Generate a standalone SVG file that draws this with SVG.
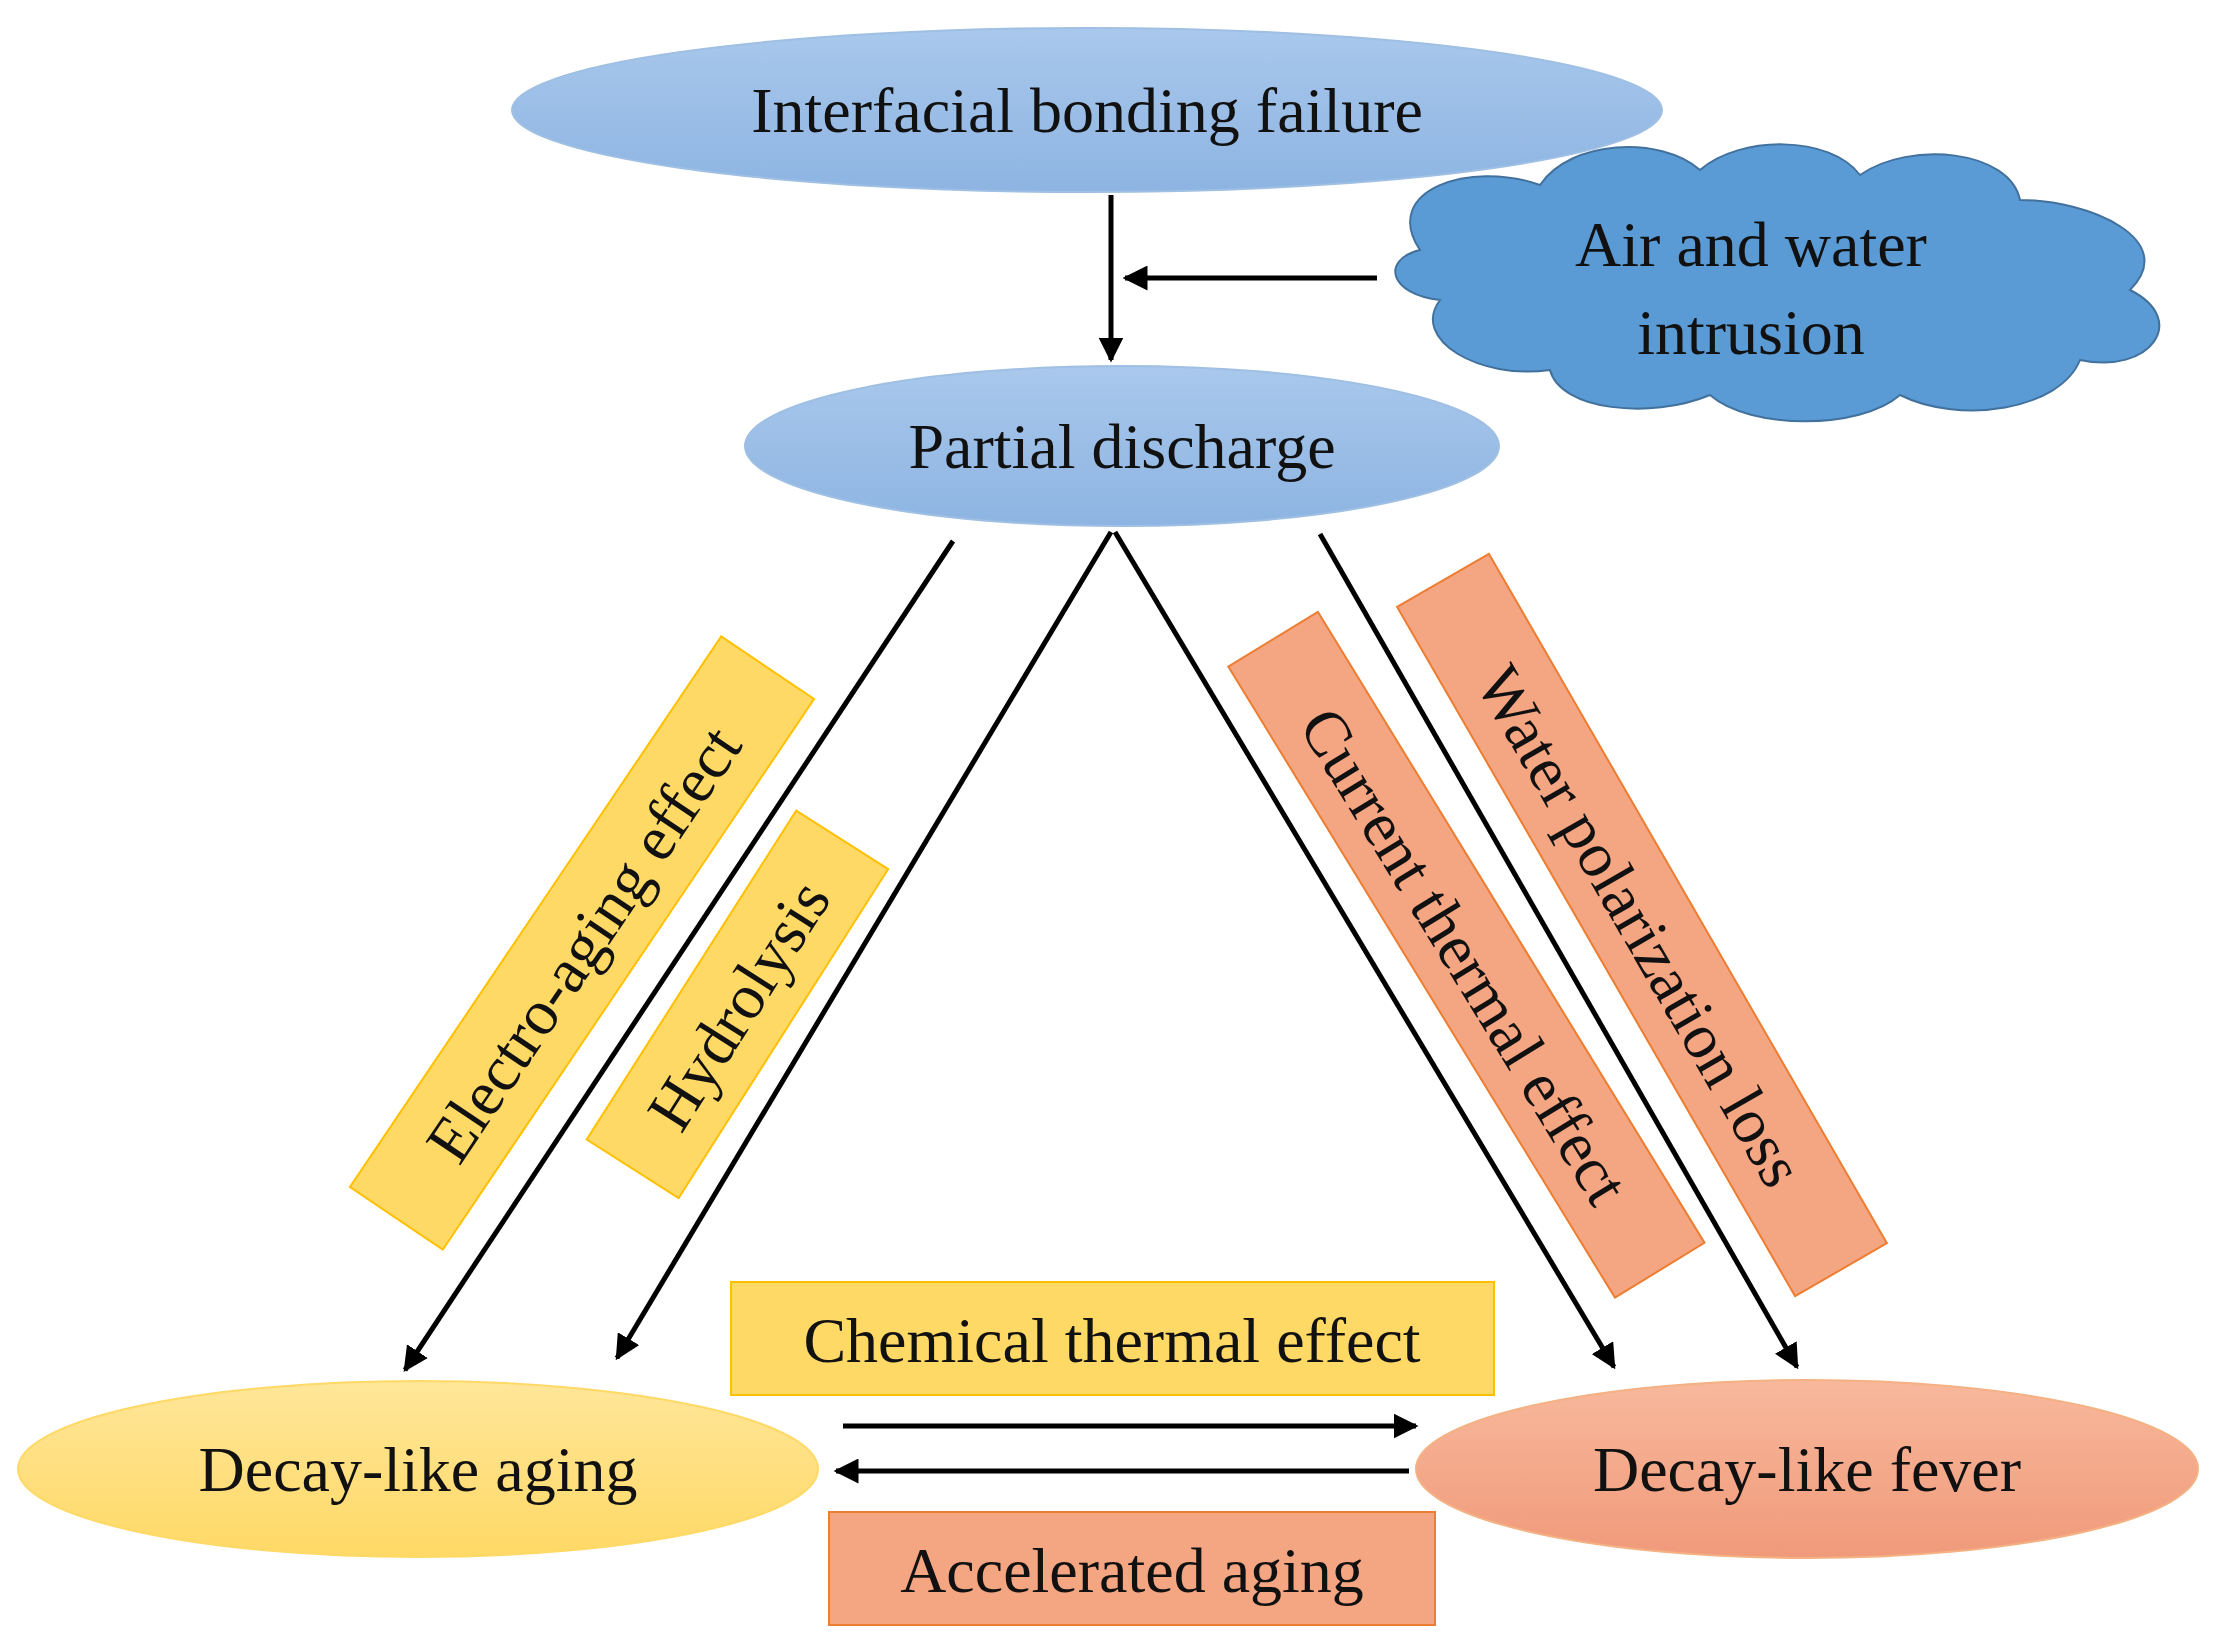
<svg xmlns="http://www.w3.org/2000/svg" width="2214" height="1647" viewBox="0 0 2214 1647">
<style>
text{font-family:"Liberation Serif","Times New Roman",serif;font-size:64px;fill:#111;text-anchor:middle;dominant-baseline:central}
.c{stroke:#000;stroke-width:5;fill:none;marker-end:url(#ah)}
.y{fill:#ffd966;stroke:#ffc000;stroke-width:2}
.o{fill:#f4a582;stroke:#ed7d31;stroke-width:2}
</style>
<defs>
<marker id="ah" viewBox="0 0 10 10" refX="9" refY="5" markerWidth="5" markerHeight="5" orient="auto"><path d="M0,0L10,5L0,10z" fill="#000"/></marker>
<linearGradient id="gb" x1="0" y1="0" x2="0" y2="1"><stop offset="0" stop-color="#a9c8ec"/><stop offset="1" stop-color="#8db4e2"/></linearGradient>
<linearGradient id="gy" x1="0" y1="0" x2="0" y2="1"><stop offset="0" stop-color="#ffe699"/><stop offset="1" stop-color="#ffd966"/></linearGradient>
<linearGradient id="go" x1="0" y1="0" x2="0" y2="1"><stop offset="0" stop-color="#f8b89c"/><stop offset="1" stop-color="#f09a7a"/></linearGradient>
</defs>
<g id="connectors">
<line class="c" x1="1111" y1="195" x2="1111" y2="360"/>
<line class="c" x1="1377" y1="278" x2="1125" y2="278"/>
<line class="c" x1="953" y1="541" x2="405" y2="1370"/>
<line class="c" x1="1111" y1="532" x2="617" y2="1358"/>
<line class="c" x1="1115" y1="532" x2="1614" y2="1367"/>
<line class="c" x1="1320" y1="534" x2="1797" y2="1367"/>
<line class="c" x1="843" y1="1426" x2="1416" y2="1426"/>
<line class="c" x1="1409" y1="1471" x2="836" y2="1471"/>
</g>
<g id="n1"><ellipse cx="1087" cy="110" rx="575" ry="82" fill="url(#gb)" stroke="#9fbfe3" stroke-width="2"/><text x="1087" y="110">Interfacial bonding failure</text></g>
<g id="n2"><path d="M1420,250 C1380,190 1470,160 1540,185 C1570,140 1660,135 1700,170 C1740,135 1830,135 1860,175 C1910,140 2010,150 2020,200 C2090,200 2180,240 2130,290 C2190,320 2150,375 2080,360 C2060,410 1960,425 1900,395 C1860,430 1750,430 1710,395 C1650,420 1560,410 1550,370 C1480,380 1410,340 1440,300 C1390,295 1380,260 1420,250 Z" fill="#5b9bd5" stroke="#41719c" stroke-width="2"/><text x="1751" y="244">Air and water</text><text x="1751" y="332">intrusion</text></g>
<g id="n3"><ellipse cx="1122" cy="446" rx="377" ry="80" fill="url(#gb)" stroke="#9fbfe3" stroke-width="2"/><text x="1122" y="446">Partial discharge</text></g>
<g id="n4"><ellipse cx="418" cy="1469" rx="400" ry="88" fill="url(#gy)" stroke="#ffd966" stroke-width="2"/><text x="418" y="1469">Decay-like aging</text></g>
<g id="n5"><ellipse cx="1807" cy="1469" rx="391" ry="89" fill="url(#go)" stroke="#f4b183" stroke-width="2"/><text x="1807" y="1469">Decay-like fever</text></g>
<g id="n6"><rect class="y" x="731" y="1282" width="763" height="113"/><text x="1112" y="1340">Chemical thermal effect</text></g>
<g id="n7"><rect class="o" x="829" y="1512" width="606" height="113"/><text x="1132" y="1570">Accelerated aging</text></g>
<g id="n8" transform="translate(582,943) rotate(-56)"><rect class="y" x="-332" y="-56" width="664" height="112"/><text x="0" y="2">Electro-aging effect</text></g>
<g id="n9" transform="translate(737,1004) rotate(-57.5)"><rect class="y" x="-195" y="-54" width="390" height="109"/><text x="0" y="2">Hydrolysis</text></g>
<g id="n10" transform="translate(1466,955) rotate(58.5)"><rect class="o" x="-370" y="-53" width="740" height="105"/><text x="0" y="2">Current thermal effect</text></g>
<g id="n11" transform="translate(1642,925) rotate(60)"><rect class="o" x="-398" y="-53" width="796" height="106"/><text x="0" y="2">Water polarization loss</text></g>
</svg>
